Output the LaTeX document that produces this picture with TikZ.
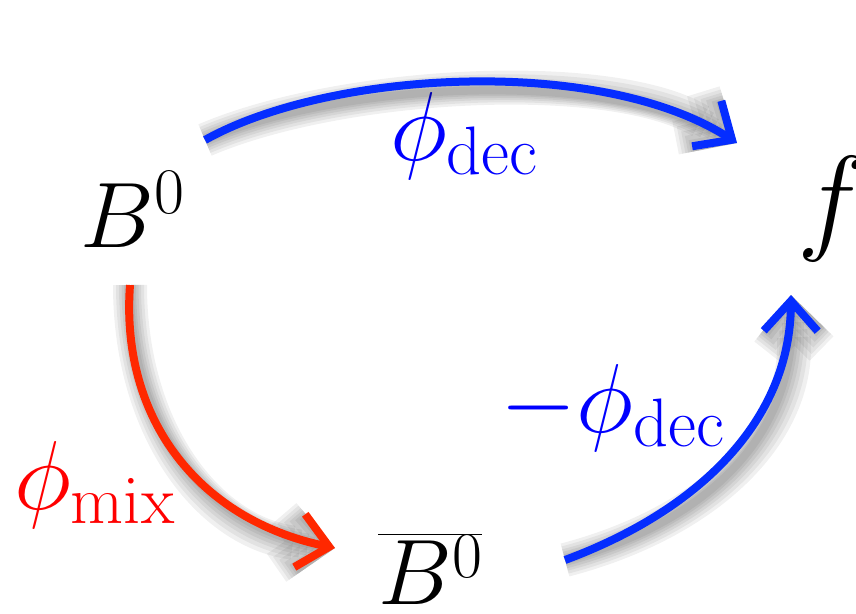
\documentclass[tikz,border=0pt]{standalone}
\usepackage{fix-cm}
\usetikzlibrary{arrows.meta}
\definecolor{arrowblue}{RGB}{5,45,255}
\definecolor{arrowred}{RGB}{255,40,0}
\definecolor{labelblue}{RGB}{0,0,255}
\definecolor{labelred}{RGB}{255,0,0}
\tikzset{
  lbl/.style={inner sep=0pt, anchor=base west, font=\fontsize{98}{118}\selectfont},
  tipstyle/.style={-{Straight Barb[length=30pt,width=54pt]}},
  conn/.style={line width=8pt, tipstyle},
  shad/.style={draw=black, opacity=0.06, shift={(10,12)}, tipstyle},
}
\newcommand\shadowed[2]{%
  \foreach \w in {34,28,22,17,12,8}{\draw[shad, line width=\w pt] #2;}%
  \draw[conn, draw=#1] #2;%
}
\begin{document}
\begin{tikzpicture}[x=1pt,y=-1pt]
\useasboundingbox (0,0) rectangle (856,613);
% nodes
\node[lbl, font=\fontsize{93}{112}\selectfont] (B0) at (80,247) {$B^0$};
\node[lbl, font=\fontsize{118}{140}\selectfont] (f) at (797,238) {$f$};
\node[lbl, font=\fontsize{93}{112}\selectfont] (B0bar) at (378,604) {$\overline{B^0}$};
\node[lbl, text=labelblue] (pdec) at (390,160) {$\phi_{\mathrm{dec}}$};
\node[lbl, text=labelblue] (mpdec) at (500,432) {$-\phi_{\mathrm{dec}}$};
\node[lbl, text=labelred] (pmix) at (14,509) {$\phi_{\mathrm{mix}}$};
% connector ends
\coordinate (a1) at (205,140);
\coordinate (a2) at (737,143);
\coordinate (r1) at (130,285);
\coordinate (r2) at (335,548);
\coordinate (b1) at (565,560);
\coordinate (b2) at (791,295);
% connectors
\shadowed{arrowblue}{(a1) .. controls (330,70) and (600,55) .. (a2)}
\shadowed{arrowred}{(r1) .. controls (120,420) and (200,520) .. (r2)}
\shadowed{arrowblue}{(b1) .. controls (700,510) and (790,420) .. (b2)}
\end{tikzpicture}
\end{document}
